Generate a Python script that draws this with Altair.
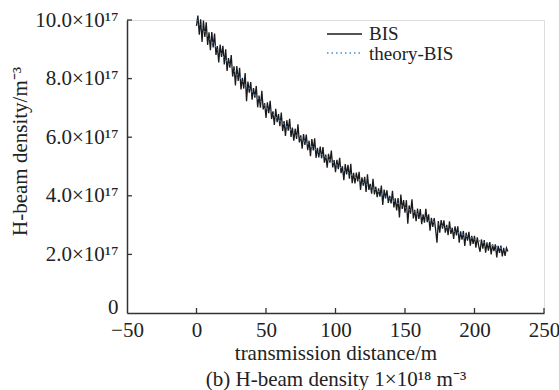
import altair as alt
import pandas as pd

# ---------------- data (values in units of 1e17 m^-3) ----------------
bis_x = list(range(0, 225))
bis_y = [
    9.80, 10.15, 9.50, 10.02, 9.25, 9.98, 9.42, 9.92, 9.15, 9.58,
    8.97, 9.59, 9.06, 9.54, 8.81, 9.11, 8.55, 9.16, 8.74, 9.12,
    8.48, 9.00, 8.26, 8.70, 8.37, 8.80, 8.07, 8.42, 7.77, 8.43,
    7.92, 8.37, 7.63, 8.03, 7.66, 8.19, 7.23, 7.90, 7.52, 7.88,
    7.28, 7.68, 7.35, 7.75, 7.02, 7.42, 7.01, 7.58, 6.95, 7.16,
    6.66, 7.19, 6.82, 7.24, 6.62, 6.88, 6.42, 6.97, 6.51, 6.79,
    6.38, 6.84, 6.21, 6.55, 6.04, 6.58, 6.22, 6.63, 6.01, 6.33,
    5.88, 6.29, 5.94, 6.44, 5.82, 6.06, 5.61, 6.11, 5.74, 6.09,
    5.56, 5.88, 5.35, 5.94, 5.55, 5.96, 5.29, 5.64, 5.31, 5.68,
    5.28, 5.66, 5.13, 5.41, 4.96, 5.43, 5.13, 5.54, 4.97, 5.22,
    4.81, 5.23, 4.91, 5.30, 4.77, 5.01, 4.53, 5.08, 4.73, 5.06,
    4.58, 5.09, 4.43, 4.78, 4.42, 4.79, 4.49, 4.82, 4.20, 4.63,
    4.35, 4.65, 4.13, 4.73, 4.20, 4.41, 4.07, 4.58, 4.05, 4.31,
    3.95, 4.25, 3.97, 4.35, 3.69, 4.21, 3.91, 4.19, 3.76, 4.00,
    3.74, 4.17, 3.60, 3.91, 3.50, 3.92, 3.26, 4.04, 3.55, 3.85,
    3.42, 3.85, 3.05, 3.67, 3.39, 3.88, 3.23, 3.52, 3.13, 3.56,
    3.21, 3.55, 3.03, 3.37, 3.08, 3.56, 3.10, 3.37, 2.81, 3.25,
    2.94, 3.24, 2.86, 2.40, 3.14, 2.74, 3.17, 2.88, 3.16, 2.74,
    3.01, 2.66, 3.13, 2.70, 2.91, 2.53, 2.96, 2.65, 2.96, 2.40,
    2.79, 2.50, 2.80, 2.29, 2.74, 2.47, 2.77, 2.30, 2.63, 2.36,
    2.63, 2.23, 2.58, 2.29, 2.09, 2.51, 2.20, 2.49, 2.06, 2.41,
    2.13, 2.42, 2.00, 2.34, 2.11, 2.34, 1.90, 2.29, 2.05, 2.30,
    1.93, 2.22, 1.95, 2.22, 2.10,
]
theory_x = [0, 10, 20, 30, 40, 50, 60, 70, 80, 90, 100, 110, 120,
            130, 140, 150, 160, 170, 180, 190, 200, 210, 220, 224]
theory_y = [10.00, 9.33, 8.70, 8.10, 7.55, 7.02, 6.56, 6.15, 5.78, 5.42,
            5.08, 4.76, 4.46, 4.17, 3.88, 3.60, 3.35, 3.12, 2.90, 2.70,
            2.52, 2.35, 2.20, 2.14]
series_names = ["BIS", "theory-BIS"]
series_colors = ["#1a1a1a", "#4a8ad4"]
x_ticks = [-50, 0, 50, 100, 150, 200, 250]
y_ticks = [0, 2, 4, 6, 8, 10]

W, H = 417, 293
FONT = "Liberation Serif"
TXT = "#222222"
AX = "#333333"

df = pd.concat([
    pd.DataFrame({"x": bis_x, "y": bis_y, "series": series_names[0], "k": 0}),
    pd.DataFrame({"x": theory_x, "y": theory_y, "series": series_names[1], "k": 1}),
], ignore_index=True)

x_scale = alt.Scale(domain=[-50, 250], nice=False, zero=False)
y_scale = alt.Scale(domain=[0, 10], nice=False, zero=False)

lines = alt.Chart(df).mark_line(strokeWidth=1.3, clip=False).encode(
    x=alt.X("x:Q", scale=x_scale, axis=alt.Axis(
        values=x_ticks, ticks=False, grid=False, labelPadding=6,
        labelFont=FONT, labelFontSize=21, labelColor=TXT,
        domainColor=AX, domainWidth=1.5, labelFlush=False,
        title=["transmission distance/m", "(b) H-beam density 1×10¹⁸ m⁻³"],
        titleFont=FONT, titleFontSize=21, titleFontWeight="normal", titleColor=TXT,
        titleBaseline="top", titleY=29, titleLineHeight=26,
    )),
    y=alt.Y("y:Q", scale=y_scale, axis=alt.Axis(
        values=y_ticks, ticks=False, grid=False, labelPadding=9,
        labelExpr="datum.value == 0 ? '0' : format(datum.value, '.1f') + '×10¹⁷'",
        labelOffset={"condition": {"test": "datum.value == 0", "value": -6}, "value": 0},
        labelFont=FONT, labelFontSize=21, labelColor=TXT, labelFlush=False,
        domainColor=AX, domainWidth=1.5,
        title="H-beam density/m⁻³",
        titleFont=FONT, titleFontSize=21, titleFontWeight="normal", titleColor=TXT,
        titleBaseline="middle", titleAlign="center", titleX=-107, titleY=131,
    )),
    color=alt.Color("series:N", scale=alt.Scale(domain=series_names, range=series_colors), legend=None),
    strokeDash=alt.StrokeDash("series:N", scale=alt.Scale(domain=series_names, range=[[1, 0], [1.5, 3]]),
                              legend=None),
    order=alt.Order("k:Q"),
)

ytick_df = pd.DataFrame({"v": y_ticks[1:]})
xtick_df = pd.DataFrame({"v": x_ticks[1:]})
one = pd.DataFrame({"series": [series_names[0]]})

yt = alt.Chart(ytick_df).mark_rule(color=AX, strokeWidth=1.3).encode(
    y=alt.Y("v:Q", scale=y_scale), x=alt.value(0), x2=alt.value(5))
xt = alt.Chart(xtick_df).mark_rule(color=AX, strokeWidth=1.3).encode(
    x=alt.X("v:Q", scale=x_scale), y=alt.value(H), y2=alt.value(H - 5))

# legend drawn inside the top-right of the plot
leg1_line = alt.Chart(one).mark_rule(color=series_colors[0], strokeWidth=1.5).encode(
    x=alt.value(200), x2=alt.value(235), y=alt.value(14))
leg2_line = alt.Chart(one).mark_rule(color=series_colors[1], strokeWidth=1.5,
                                     strokeDash=[1.5, 3]).encode(
    x=alt.value(200), x2=alt.value(235), y=alt.value(33))
leg1_txt = alt.Chart(one).mark_text(font=FONT, fontSize=19, color=TXT, align="left",
                                    baseline="alphabetic").encode(
    x=alt.value(242), y=alt.value(20), text=alt.value(series_names[0]))
leg2_txt = alt.Chart(one).mark_text(font=FONT, fontSize=19, color=TXT, align="left",
                                    baseline="alphabetic").encode(
    x=alt.value(242), y=alt.value(39.5), text=alt.value(series_names[1]))

chart = alt.layer(lines, yt, xt, leg1_line, leg2_line, leg1_txt, leg2_txt).properties(
    width=W, height=H,
    autosize=alt.AutoSizeParams(type="none"),
    padding={"left": 127, "top": 20, "right": 15, "bottom": 77},
).configure_view(stroke=None).configure(background="white")

chart.save("out.html", embed_options={"renderer": "svg", "actions": False})
